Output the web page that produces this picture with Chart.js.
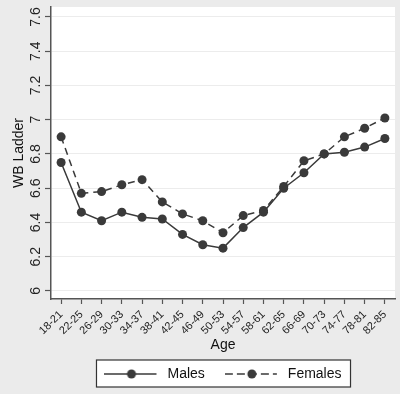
<!DOCTYPE html>
<html>
<head>
<meta charset="utf-8">
<script src="https://cdn.jsdelivr.net/npm/chart.js@4.4.1/dist/chart.umd.min.js"></script>
<style>
html, body { margin: 0; padding: 0; background: #ebebeb; }
</style>
</head>
<body>
<canvas id="chart" width="400" height="394"></canvas>
<script>
var ageGroups = ['18-21', '22-25', '26-29', '30-33', '34-37', '38-41', '42-45', '46-49', '50-53',
                 '54-57', '58-61', '62-65', '66-69', '70-73', '74-77', '78-81', '82-85'];
var males   = [6.75, 6.46, 6.41, 6.46, 6.43, 6.42, 6.33, 6.27, 6.25, 6.37, 6.46, 6.60, 6.69, 6.80, 6.81, 6.84, 6.89];
var females = [6.90, 6.57, 6.58, 6.62, 6.65, 6.52, 6.45, 6.41, 6.34, 6.44, 6.47, 6.61, 6.76, 6.80, 6.90, 6.95, 7.01];
var yTicks  = [6, 6.2, 6.4, 6.6, 6.8, 7, 7.2, 7.4, 7.6];

var ink = '#3a3a3a';

// little line + dot sample for the legend
function legendSymbol(dashed) {
    var c = document.createElement('canvas');
    c.width = 56;
    c.height = 12;
    var g = c.getContext('2d');
    g.strokeStyle = ink;
    g.lineWidth = 1.5;
    if (dashed) g.setLineDash([8, 4]);
    g.beginPath();
    g.moveTo(0, 6);
    g.lineTo(52, 6);
    g.stroke();
    g.setLineDash([]);
    g.fillStyle = ink;
    g.beginPath();
    g.arc(27, 6, 4.5, 0, Math.PI * 2);
    g.fill();
    return c;
}
var symbols = [legendSymbol(false), legendSymbol(true)];

var backdrop = {
    id: 'backdrop',
    beforeDraw: function(chart) {
        var ctx = chart.ctx, a = chart.chartArea;
        ctx.save();
        ctx.fillStyle = '#ebebeb';
        ctx.fillRect(0, 0, chart.width, chart.height);
        ctx.fillStyle = '#ffffff';
        ctx.fillRect(a.left, a.top, a.right - a.left, a.bottom - a.top);
        var hb = chart.legend.legendHitBoxes;
        if (hb && hb.length) {
            var x0 = hb[0].left - 8;
            var x1 = hb[hb.length - 1].left + hb[hb.length - 1].width + 9;
            var y0 = hb[0].top - 7;
            var y1 = hb[0].top + hb[0].height + 6;
            ctx.fillRect(x0, y0, x1 - x0, y1 - y0);
            ctx.strokeStyle = '#333';
            ctx.lineWidth = 1.2;
            ctx.strokeRect(x0, y0, x1 - x0, y1 - y0);
        }
        ctx.restore();
    }
};

new Chart(document.getElementById('chart'), {
    type: 'line',
    data: {
        labels: ageGroups,
        datasets: [{
            label: 'Males',
            data: males,
            borderColor: ink,
            backgroundColor: ink,
            borderWidth: 1.5,
            pointRadius: 4.5,
            pointBorderWidth: 0,
            tension: 0
        }, {
            label: 'Females',
            data: females,
            borderColor: ink,
            backgroundColor: ink,
            borderWidth: 1.5,
            borderDash: [7, 5],
            pointRadius: 4.5,
            pointBorderWidth: 0,
            tension: 0
        }]
    },
    options: {
        responsive: false,
        animation: false,
        layout: { padding: { top: 7, right: 5, left: 0, bottom: 3 } },
        plugins: {
            tooltip: { enabled: false },
            legend: {
                position: 'bottom',
                fullSize: false,
                labels: {
                    usePointStyle: true,
                    pointStyleWidth: 56,
                    padding: 20,
                    color: '#111',
                    font: { family: 'Liberation Sans', size: 14 },
                    generateLabels: function(chart) {
                        var items = Chart.defaults.plugins.legend.labels.generateLabels(chart);
                        items.forEach(function(it, i) { it.pointStyle = symbols[i]; });
                        return items;
                    }
                }
            }
        },
        scales: {
            x: {
                offset: true,
                grid: { drawOnChartArea: false, tickLength: 5, tickColor: '#555', tickWidth: 1.2 },
                border: { color: '#555', width: 1.5 },
                ticks: {
                    autoSkip: false, minRotation: 45, maxRotation: 45, padding: 4,
                    color: '#222', font: { family: 'Liberation Sans', size: 11 }
                },
                title: {
                    display: true, text: 'Age', color: '#111',
                    font: { family: 'Liberation Sans', size: 14 },
                    padding: { top: 0, bottom: -7 }
                },
                afterFit: function(s) { s.height = 48; }
            },
            y: {
                min: 5.953,
                max: 7.658,
                grid: { color: '#ececec', lineWidth: 1, tickLength: 6, tickColor: '#555', tickWidth: 1.2 },
                border: { color: '#555', width: 1.5 },
                afterBuildTicks: function(s) {
                    s.ticks = yTicks.map(function(v) { return { value: v }; });
                },
                ticks: {
                    minRotation: 90, maxRotation: 90, crossAlign: 'center', padding: -1,
                    color: '#222', font: { family: 'Liberation Sans', size: 14, lineHeight: 1 },
                    callback: function(v) { return String(Math.round(v * 10) / 10); }
                },
                title: {
                    display: true, text: 'WB Ladder', color: '#111',
                    font: { family: 'Liberation Sans', size: 14 },
                    padding: { top: 11, bottom: 0 }
                },
                afterFit: function(s) { s.width = 51; }
            }
        }
    },
    plugins: [backdrop]
});
</script>
</body>
</html>
